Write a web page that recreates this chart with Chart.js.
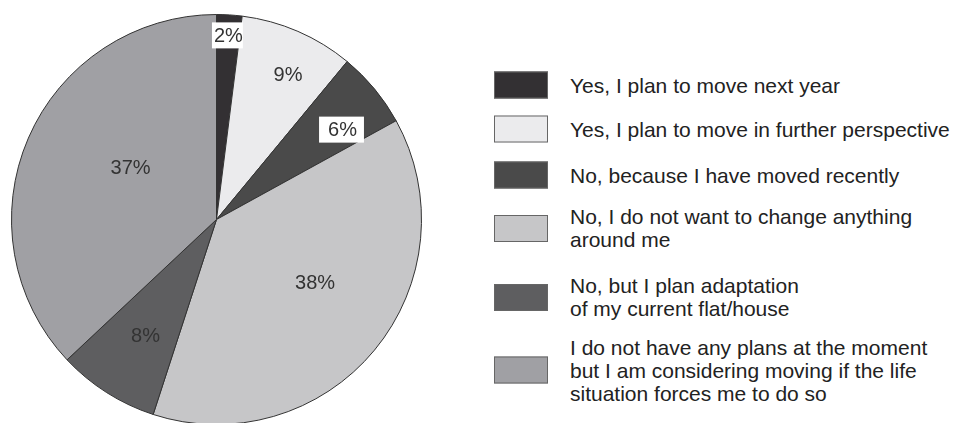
<!DOCTYPE html>
<html>
<head>
<meta charset="utf-8">
<script src="https://cdn.jsdelivr.net/npm/chart.js@4/dist/chart.umd.min.js"></script>
<style>
    html, body { margin: 0; padding: 0; background: #fff; overflow: hidden; }
    body { width: 957px; height: 423px; position: relative; font-family: "Liberation Sans", Arial, sans-serif; }
    #pieWrap { position: absolute; left: 0; top: 0; width: 440px; height: 440px; }
    .item { position: absolute; left: 494px; display: flex; align-items: center; transform: translateY(-50%); }
    .box { width: 52px; height: 25px; border: 1px solid #666; box-sizing: content-box; flex: none; }
    .txt { margin-left: 22px; font-size: 21px; line-height: 23px; color: #222; white-space: nowrap; }
</style>
</head>
<body>
<div id="pieWrap"><canvas id="pie" width="440" height="440"></canvas></div>
<div id="legend"></div>
<script>
// Data
const categories = [
    ['Yes, I plan to move next year'],
    ['Yes, I plan to move in further perspective'],
    ['No, because I have moved recently'],
    ['No, I do not want to change anything', 'around me'],
    ['No, but I plan adaptation', 'of my current flat/house'],
    ['I do not have any plans at the moment', 'but I am considering moving if the life', 'situation forces me to do so']
];
const shares = [2, 9, 6, 38, 8, 37];

// Styles
const sliceColors = ['#333033', '#ebebed', '#4a4a4a', '#c6c6c8', '#5e5e60', '#a0a0a4'];
// label placement: fraction of radius and angle shift (deg) from slice middle
const labelRadius = [0.9, 0.79, 0.755, 0.57, 0.663, 0.49];
const labelShift = [0.1, 2.8, 4.1, -7.1, -0.9, 7.8];
// white box behind label: [pad left, pad right] or null
const labelBox = [[2, 0], null, [9, 7], null, null, null];
// vertical centre of each legend row
const legendRowY = [85, 129, 175, 228, 297, 370];

// Build the HTML legend
const legendDiv = document.getElementById('legend');
categories.forEach((lines, i) => {
    const item = document.createElement('div');
    item.className = 'item';
    item.style.top = legendRowY[i] + 'px';
    const box = document.createElement('div');
    box.className = 'box';
    box.style.background = sliceColors[i];
    const txt = document.createElement('div');
    txt.className = 'txt';
    txt.innerHTML = lines.join('<br>');
    item.appendChild(box);
    item.appendChild(txt);
    legendDiv.appendChild(item);
});

// Percent labels drawn inside the slices
const sliceLabels = {
    id: 'sliceLabels',
    afterDatasetsDraw(chart) {
        const ctx = chart.ctx;
        const arcs = chart.getDatasetMeta(0).data;
        ctx.save();
        ctx.font = '20px "Liberation Sans", Arial, sans-serif';
        ctx.textAlign = 'center';
        ctx.textBaseline = 'middle';
        arcs.forEach((arc, i) => {
            const p = arc.getProps(['x', 'y', 'startAngle', 'endAngle', 'outerRadius'], true);
            const mid = (p.startAngle + p.endAngle) / 2 + labelShift[i] * Math.PI / 180;
            const r = p.outerRadius * labelRadius[i];
            const x = p.x + Math.cos(mid) * r;
            const y = p.y + Math.sin(mid) * r;
            const text = shares[i] + '%';
            if (labelBox[i]) {
                const w = ctx.measureText(text).width;
                ctx.fillStyle = '#ffffff';
                ctx.fillRect(x - w / 2 - labelBox[i][0], y - 13, w + labelBox[i][0] + labelBox[i][1], 26);
            }
            ctx.fillStyle = '#333333';
            ctx.fillText(text, x, y + 1);
        });
        ctx.restore();
    }
};

new Chart(document.getElementById('pie').getContext('2d'), {
    type: 'pie',
    data: {
        labels: categories.map(l => l.join(' ')),
        datasets: [{
            data: shares,
            backgroundColor: sliceColors,
            borderColor: '#333333',
            borderWidth: 1,
            hoverOffset: 0
        }]
    },
    options: {
        responsive: false,
        animation: false,
        layout: { padding: { left: 11, top: 14, right: 18, bottom: 15 } },
        plugins: {
            legend: { display: false },
            tooltip: { enabled: false }
        }
    },
    plugins: [sliceLabels]
});
</script>
</body>
</html>
